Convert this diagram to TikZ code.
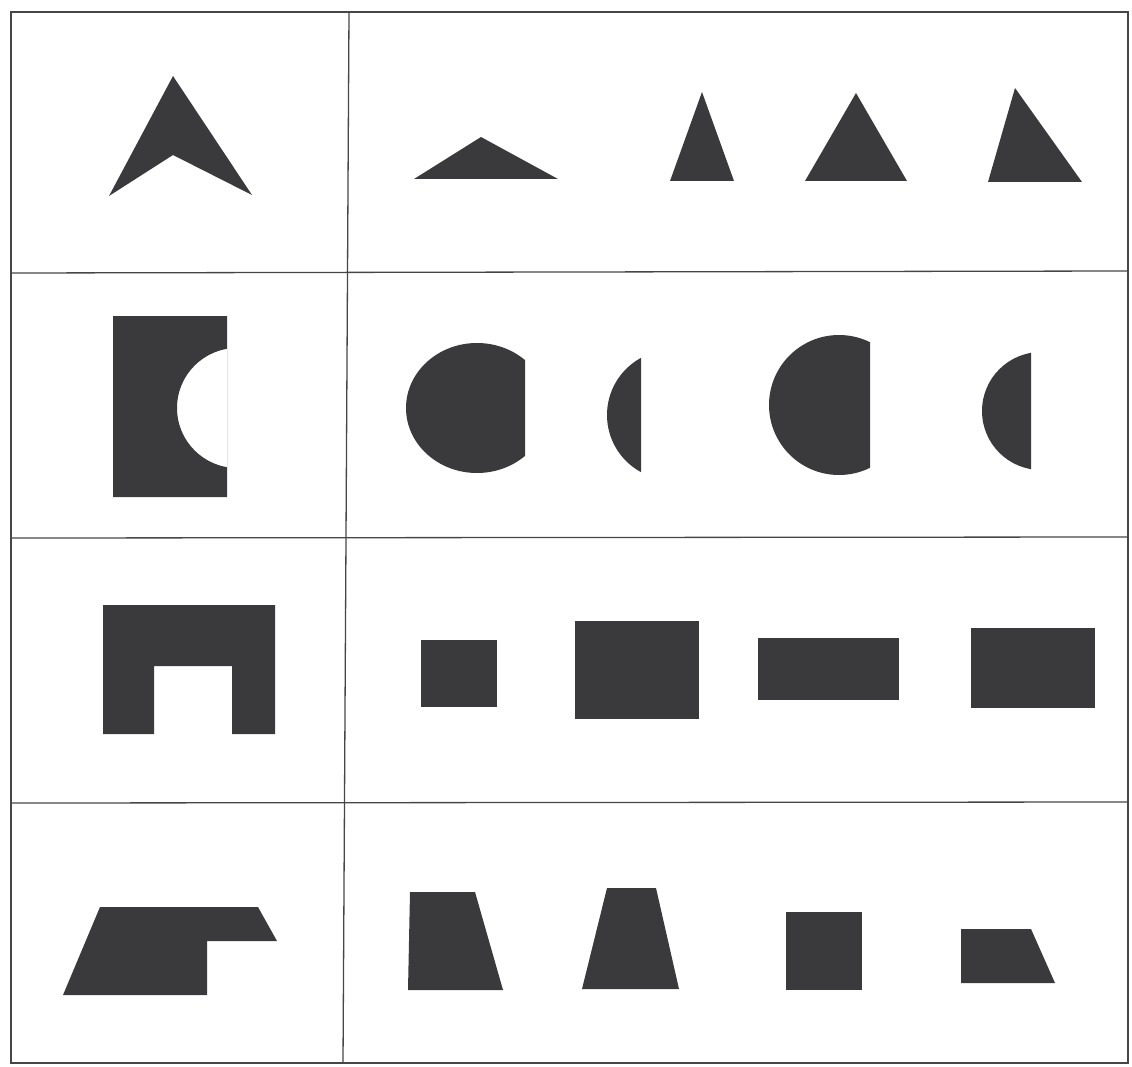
\documentclass[tikz,border=0pt]{standalone}
\usepackage{tikz}

\definecolor{inkgray}{RGB}{58,58,61}
\definecolor{rulegray}{RGB}{70,70,72}

\begin{document}
\begin{tikzpicture}[
    x=1pt, y=-1pt,
    solid shape/.style={fill=inkgray, draw=none},
    grid line/.style={draw=rulegray, line width=1.3pt},
]
    \useasboundingbox (0,0) rectangle (1132,1067);

    % Grid
    \draw [grid line] (11,12) rectangle (1128,1063);
    \draw [grid line] (349,12) -- (343,1063);
    \draw [grid line] (11,273) -- (1128,271);
    \draw [grid line] (11,538) -- (1128,537);
    \draw [grid line] (11,803) -- (1128,802);

    % Row 1: chevron and triangles
    \fill [solid shape] (173,76) -- (252,195) -- (173,155) -- (109,196) -- cycle;
    \fill [solid shape] (414,179) -- (481,137) -- (558,179) -- cycle;
    \fill [solid shape] (670,181) -- (702,92) -- (734,181) -- cycle;
    \fill [solid shape] (805,181) -- (856,93) -- (907,181) -- cycle;
    \fill [solid shape] (988,182) -- (1015,88) -- (1082,182) -- cycle;

    % Row 2: notched block and circle segments
    \begin{scope}
        \clip (113,316) rectangle (227,497);
        \fill [solid shape, even odd rule] (113,316) rectangle (227,497)
            (237,408) circle [radius=60pt];
    \end{scope}
    \begin{scope}
        \clip (400,335) rectangle (525,480);
        \fill [solid shape] (477,408) ellipse [x radius=71pt, y radius=65pt];
    \end{scope}
    \begin{scope}
        \clip (600,345) rectangle (641,485);
        \fill [solid shape] (672,415) circle [radius=65pt];
    \end{scope}
    \begin{scope}
        \clip (760,330) rectangle (870,480);
        \fill [solid shape] (839,405) circle [radius=70pt];
    \end{scope}
    \begin{scope}
        \clip (975,345) rectangle (1031,478);
        \fill [solid shape] (1041,411) circle [radius=59pt];
    \end{scope}

    % Row 3: U block and rectangles
    \fill [solid shape] (103,605) -- (275,605) -- (275,734) -- (232,734)
        -- (232,666) -- (154,666) -- (154,734) -- (103,734) -- cycle;
    \fill [solid shape] (421,640) rectangle (497,707);
    \fill [solid shape] (575,621) rectangle (699,719);
    \fill [solid shape] (758,638) rectangle (899,700);
    \fill [solid shape] (971,628) rectangle (1095,708);

    % Row 4: stepped block and quadrilaterals
    \fill [solid shape] (100,907) -- (258,907) -- (277,941) -- (207,941)
        -- (207,995) -- (63,995) -- cycle;
    \fill [solid shape] (410,892) -- (475,892) -- (503,990) -- (408,990) -- cycle;
    \fill [solid shape] (607,888) -- (656,888) -- (679,989) -- (582,989) -- cycle;
    \fill [solid shape] (786,912) rectangle (862,990);
    \fill [solid shape] (961,929) -- (1031,929) -- (1055,983) -- (961,983) -- cycle;

\end{tikzpicture}
\end{document}
